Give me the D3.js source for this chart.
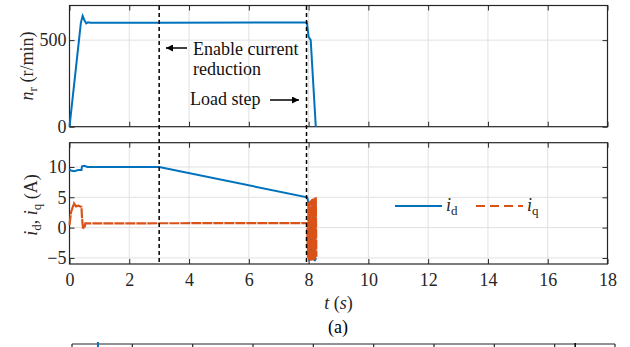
<!DOCTYPE html>
<html>
<head>
<meta charset="utf-8">
<script src="https://cdn.jsdelivr.net/npm/d3@7"></script>
<style>
    body { margin: 0; background: #fff; }
    svg, svg text { font-family: "Times New Roman", "Liberation Serif", Times, serif !important; }
</style>
</head>
<body>
<div id="chart"></div>
<script>
// data
const speedT = [0, 0.38, 0.44, 0.5, 0.56, 0.62, 0.7, 3, 7.94, 8.0, 8.07, 8.24];
const speedN = [0, 600, 640, 615, 597, 603, 600, 601, 602, 520, 500, 0];

const idT = [0, 0.05, 0.15, 0.3, 0.4, 0.42, 0.5, 0.6, 3.0, 7.95, 8.0, 8.02, 8.05, 8.08, 8.1, 8.12, 8.15, 8.2, 8.25];
const idV = [9.6, 9.4, 9.3, 9.5, 9.5, 10.1, 10.2, 10, 10, 5.0, 4.0, -5.5, 2.5, -5, 1, -5.3, 0, -5.5, -5];

const iqT = [0, 0.05, 0.15, 0.22, 0.3, 0.4, 0.42, 0.45, 0.5, 0.53, 7.95, 7.98, 8.0, 8.02, 8.04, 8.06, 8.08, 8.1, 8.12, 8.14, 8.16, 8.18, 8.2, 8.22, 8.24, 8.26];
const iqV = [0.4, 2.5, 4.0, 3.5, 3.6, 3.4, 1.5, 0.0, -0.1, 0.7, 0.75, -5, 4.2, -5.4, 4.4, -5.5, 4.5, -5.5, 4.7, -5.4, 4.8, -5.3, 4.9, -5.2, 5.0, -4.8];

const markerTimes = [3, 7.93];
const xTicks = [0, 2, 4, 6, 8, 10, 12, 14, 16, 18];
const topTicks = [0, 500];
const botTicks = [-5, 0, 5, 10];
const panelBTicks = [0, 1, 2, 3, 4, 5, 6, 7, 8, 9];

const BLUE = '#0072bd';
const ORANGE = '#d95319';
const AXIS = '#262626';
const GRID = '#e1e1e1';
const FONT = 18;
const SERIF = '"Times New Roman", "Liberation Serif", Times, serif';

const width = 630, height = 347;

const svg = d3.select('#chart')
    .append('svg')
    .attr('width', width)
    .attr('height', height)
    .attr('font-family', SERIF);

svg.append('rect').attr('width', width).attr('height', height).attr('fill', '#fff');

// scales
const x = d3.scaleLinear().domain([0, 18]).range([69.5, 607.5]);
const yTop = d3.scaleLinear().domain([0, 700]).range([126.7, 5.5]);
const yBot = d3.scaleLinear().domain([-6, 14]).range([264, 142.7]);

function drawPanel(y, yTicks, showXLabels) {
    const [y0, y1] = y.range();
    const left = x.range()[0], right = x.range()[1];
    const g = svg.append('g');

    // grid
    g.append('g').selectAll('line')
        .data(xTicks.slice(1, -1))
        .join('line')
        .attr('x1', d => x(d)).attr('x2', d => x(d))
        .attr('y1', y1).attr('y2', y0)
        .attr('stroke', GRID);
    g.append('g').selectAll('line')
        .data(yTicks.filter(d => y(d) > y1 + 1 && y(d) < y0 - 1))
        .join('line')
        .attr('x1', left).attr('x2', right)
        .attr('y1', d => y(d)).attr('y2', d => y(d))
        .attr('stroke', GRID);

    // axes, ticks inward
    g.append('g')
        .attr('transform', `translate(0,${y0})`)
        .call(d3.axisBottom(x).tickValues(xTicks).tickSizeInner(-5).tickSizeOuter(0).tickPadding(9)
            .tickFormat(showXLabels ? d3.format('d') : ''));
    g.append('g')
        .attr('transform', `translate(0,${y1})`)
        .call(d3.axisTop(x).tickValues(xTicks).tickSizeInner(-5).tickSizeOuter(0).tickFormat(''));
    g.append('g')
        .attr('transform', `translate(${left},0)`)
        .call(d3.axisLeft(y).tickValues(yTicks).tickSizeInner(-5).tickSizeOuter(0).tickPadding(3));
    g.append('g')
        .attr('transform', `translate(${right},0)`)
        .call(d3.axisRight(y).tickValues(yTicks).tickSizeInner(-5).tickSizeOuter(0).tickFormat(''));

    g.selectAll('.domain').remove();
    g.selectAll('g').attr('font-family', SERIF);
    g.selectAll('.tick line').attr('stroke', AXIS);
    g.selectAll('.tick text')
        .attr('font-family', SERIF)
        .attr('font-size', FONT)
        .attr('fill', AXIS);

    // box
    g.append('rect')
        .attr('x', left).attr('y', y1)
        .attr('width', right - left).attr('height', y0 - y1)
        .attr('fill', 'none')
        .attr('stroke', AXIS)
        .attr('stroke-width', 1.2);
    return g;
}

drawPanel(yTop, topTicks, false);
drawPanel(yBot, botTicks, true);

// series
const speedLine = d3.line().x(d => x(d[0])).y(d => yTop(d[1]));
svg.append('path')
    .attr('d', speedLine(d3.zip(speedT, speedN)))
    .attr('fill', 'none')
    .attr('stroke', BLUE)
    .attr('stroke-width', 2);

const botLine = d3.line().x(d => x(d[0])).y(d => yBot(d[1]));
svg.append('path')
    .attr('d', botLine(d3.zip(idT, idV)))
    .attr('fill', 'none')
    .attr('stroke', BLUE)
    .attr('stroke-width', 2);
svg.append('path')
    .attr('d', botLine(d3.zip(iqT, iqV)))
    .attr('fill', 'none')
    .attr('stroke', ORANGE)
    .attr('stroke-width', 2.2)
    .attr('stroke-dasharray', '10,1');

// event markers
svg.append('g').selectAll('line')
    .data(markerTimes)
    .join('line')
    .attr('x1', d => x(d)).attr('x2', d => x(d))
    .attr('y1', 6).attr('y2', 264)
    .attr('stroke', '#000')
    .attr('stroke-width', 1.5)
    .attr('stroke-dasharray', '4,3');

// annotations
svg.append('defs').append('marker')
    .attr('id', 'arrow')
    .attr('viewBox', '0 0 10 10')
    .attr('refX', 10).attr('refY', 5)
    .attr('markerWidth', 9).attr('markerHeight', 7)
    .attr('markerUnits', 'userSpaceOnUse')
    .attr('orient', 'auto')
    .append('path').attr('d', 'M0,0L10,5L0,10z').attr('fill', '#000');

svg.append('line')
    .attr('x1', 187).attr('y1', 48).attr('x2', 166).attr('y2', 48)
    .attr('stroke', '#000').attr('stroke-width', 1.5)
    .attr('marker-end', 'url(#arrow)');
svg.append('line')
    .attr('x1', 270).attr('y1', 100).attr('x2', 299).attr('y2', 100)
    .attr('stroke', '#000').attr('stroke-width', 1.5)
    .attr('marker-end', 'url(#arrow)');

const ann = svg.append('g').attr('font-size', FONT).attr('fill', '#111');
ann.append('text').attr('x', 193).attr('y', 55).text('Enable current');
ann.append('text').attr('x', 193).attr('y', 75).text('reduction');
ann.append('text').attr('x', 190).attr('y', 105).text('Load step');

// y labels
const yl1 = svg.append('text')
    .attr('transform', 'translate(33,66) rotate(-90)')
    .attr('text-anchor', 'middle')
    .attr('font-size', FONT)
    .attr('fill', AXIS);
yl1.append('tspan').attr('font-style', 'italic').text('n');
yl1.append('tspan').attr('font-size', 13).attr('dy', 4).text('r');
yl1.append('tspan').attr('dy', -4).text(' (r/min)');

const yl2 = svg.append('text')
    .attr('transform', 'translate(37,205) rotate(-90)')
    .attr('text-anchor', 'middle')
    .attr('font-size', FONT)
    .attr('fill', AXIS);
yl2.append('tspan').attr('font-style', 'italic').text('i');
yl2.append('tspan').attr('font-size', 13).attr('dy', 4).text('d');
yl2.append('tspan').attr('dy', -4).text(', ');
yl2.append('tspan').attr('font-style', 'italic').text('i');
yl2.append('tspan').attr('font-size', 13).attr('dy', 4).text('q');
yl2.append('tspan').attr('dy', -4).text(' (A)');

// x label and caption
const xl = svg.append('text')
    .attr('x', (x.range()[0] + x.range()[1]) / 2)
    .attr('y', 309)
    .attr('text-anchor', 'middle')
    .attr('font-size', FONT)
    .attr('fill', AXIS);
xl.append('tspan').attr('font-style', 'italic').text('t');
xl.append('tspan').text(' (');
xl.append('tspan').attr('font-style', 'italic').text('s');
xl.append('tspan').text(')');

svg.append('text')
    .attr('x', 338)
    .attr('y', 333)
    .attr('text-anchor', 'middle')
    .attr('font-size', FONT)
    .attr('fill', '#000')
    .text('(a)');

// legend
const legendItems = [
    { label: 'd', color: BLUE, dash: null, x0: 395 },
    { label: 'q', color: ORANGE, dash: '9,5', x0: 476 }
];
const legend = svg.append('g');
legendItems.forEach(item => {
    legend.append('line')
        .attr('x1', item.x0).attr('x2', item.x0 + 47)
        .attr('y1', 206).attr('y2', 206)
        .attr('stroke', item.color)
        .attr('stroke-width', 2)
        .attr('stroke-dasharray', item.dash);
    const t = legend.append('text')
        .attr('x', item.x0 + 51)
        .attr('y', 211)
        .attr('font-size', FONT)
        .attr('fill', AXIS);
    t.append('tspan').attr('font-style', 'italic').text('i');
    t.append('tspan').attr('font-size', 13).attr('dy', 4).text(item.label);
});

// top edge of the next figure panel (b), cut off by the image border
const xb = d3.scaleLinear().domain([0, 9]).range([72, 615]);
const pb = svg.append('g');
pb.append('line')
    .attr('x1', xb(0)).attr('x2', xb(9))
    .attr('y1', 344).attr('y2', 344)
    .attr('stroke', AXIS).attr('stroke-width', 1.2);
pb.selectAll('.t')
    .data(panelBTicks)
    .join('line')
    .attr('x1', d => xb(d)).attr('x2', d => xb(d))
    .attr('y1', 344).attr('y2', 347)
    .attr('stroke', AXIS)
    .attr('stroke-width', 1.2);
pb.append('line')
    .attr('x1', xb(0.43)).attr('x2', xb(0.43))
    .attr('y1', 342).attr('y2', 347)
    .attr('stroke', BLUE).attr('stroke-width', 2);
pb.append('line')
    .attr('x1', xb(8.34)).attr('x2', xb(8.34))
    .attr('y1', 343).attr('y2', 347)
    .attr('stroke', '#000').attr('stroke-width', 1.5);
</script>
</body>
</html>
